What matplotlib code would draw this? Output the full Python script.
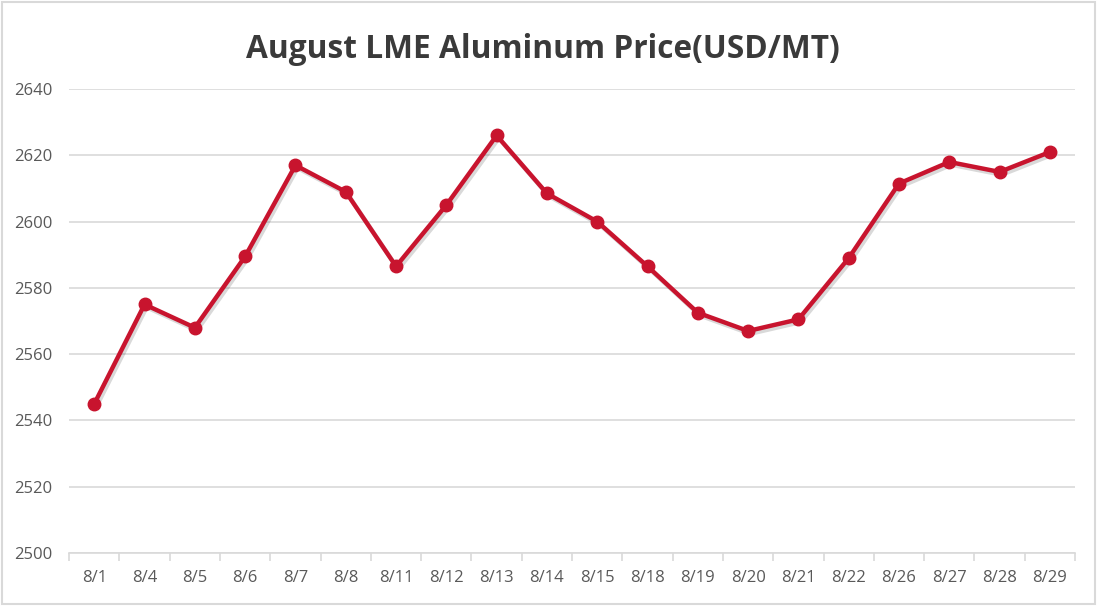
import numpy as np
import matplotlib.pyplot as plt
import matplotlib.patheffects as pe

# data
dates = ['8/1', '8/4', '8/5', '8/6', '8/7', '8/8', '8/11', '8/12', '8/13', '8/14',
         '8/15', '8/18', '8/19', '8/20', '8/21', '8/22', '8/26', '8/27', '8/28', '8/29']
prices = [2545, 2575, 2568, 2589.5, 2617, 2609, 2586.5, 2605, 2626, 2608.5,
          2600, 2586.5, 2572.5, 2567, 2570.5, 2589, 2611.5, 2618, 2615, 2621]
yticks = [2500, 2520, 2540, 2560, 2580, 2600, 2620, 2640]

plt.rcParams['font.family'] = ['Open Sans', 'DejaVu Sans']

fig = plt.figure(figsize=(10.97, 6.06), dpi=100)
ax = fig.add_axes([0.063, 0.0875, 0.917, 0.7655])

x = np.arange(len(dates))
red = '#C8142E'
# soft shadow under the line, then the line itself
ax.plot(x, prices, color=red, lw=3.2, zorder=2,
        path_effects=[pe.SimpleLineShadow(offset=(1.5, -2), alpha=0.15, shadow_color='k')])
ax.plot(x, prices, color=red, mec=red, lw=3.2, marker='o', ms=9, zorder=3)

ax.set_xlim(-0.5, len(dates) - 0.5)
ax.set_ylim(2500, 2640)
ax.set_yticks(yticks)
ax.grid(axis='y', color='#d9d9d9', lw=1.2)
ax.set_axisbelow(True)

ax.set_xticks(x)
ax.set_xticklabels(dates)
ax.set_xticks(np.arange(-0.5, len(dates)), minor=True)
ax.tick_params(axis='x', which='major', length=0, pad=12, labelsize=12, labelcolor='#595959')
ax.tick_params(axis='x', which='minor', length=6, color='#d9d9d9', width=1.2)
ax.tick_params(axis='y', length=0, pad=12, labelsize=12, labelcolor='#595959')

for s in ['top', 'right', 'left']:
    ax.spines[s].set_visible(False)
ax.spines['bottom'].set_color('#d9d9d9')
ax.spines['bottom'].set_linewidth(1.2)

fig.text(0.4945, 0.918, 'August LME Aluminum Price(USD/MT)', ha='center', va='center',
         fontsize=22.8, fontweight='bold', color='#3a3a3a')

# light frame around the whole chart
fig.patches.append(plt.Rectangle((0.002, 0.003), 0.996, 0.994, transform=fig.transFigure,
                                 fill=False, edgecolor='#d9d9d9', lw=1.5))

fig.savefig('out.png', dpi=100)
